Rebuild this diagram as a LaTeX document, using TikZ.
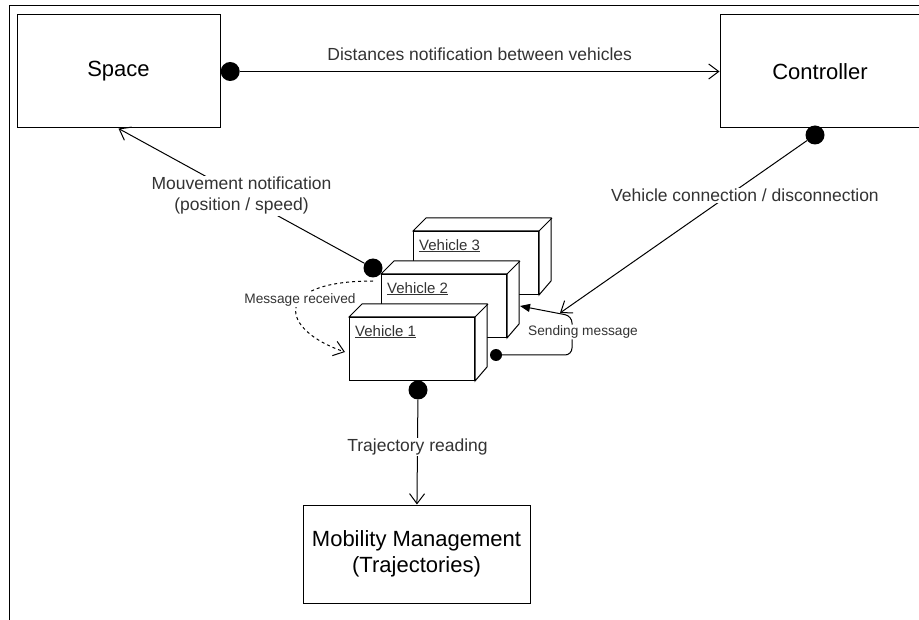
\documentclass[tikz,border=0pt]{standalone}
\usepackage{fontspec}
\setmainfont{Liberation Sans}
\usetikzlibrary{arrows.meta,positioning}

\tikzset{
  block/.style={draw, fill=white, line width=1pt, align=center, inner sep=0pt,
    font=\fontsize{22}{26}\selectfont},
  vehiclebox/.style={draw, fill=white, line width=1pt, inner sep=0pt,
    minimum width=125pt, minimum height=63pt},
  vlabel/.style={anchor=north west, inner sep=1pt, xshift=5pt, yshift=-7pt,
    text=black!80, font=\fontsize{15}{18}\selectfont},
  bulletdot/.style={circle, fill=black, inner sep=0pt, minimum size=19pt},
  smalldot/.style={circle, fill=black, inner sep=0pt, minimum size=12pt},
  conn/.style={line width=1pt, -{Straight Barb[length=10pt,width=15pt]}},
  lbl/.style={fill=white, align=center, inner sep=1pt, text=black!80,
    font=\fontsize{17.5}{21}\selectfont},
  smalllbl/.style={fill=white, inner sep=1pt, text=black!80,
    font=\fontsize{13.7}{16}\selectfont},
}

\begin{document}
\begin{tikzpicture}[x=1pt, y=-1pt]
  \useasboundingbox (0,0) rectangle (919,620);
  \draw[line width=1pt] (919,6) -- (9,6) -- (9,620);

  \node[block, minimum width=203pt, minimum height=113pt] (space) at (118.5,71.5) {Space};
  \node[block, minimum width=200pt, minimum height=113pt] (ctrl) at (820,71.5) {Controller};
  \node[block, minimum width=227pt, minimum height=98pt] (mob) at (416.5,554) {Mobility Management\\(Trajectories)};

  % vehicles, back one first
  \foreach \n/\x/\y in {3/476/263, 2/444/306, 1/412/349}{
    \node[vehiclebox, label={[vlabel]north west:\underline{Vehicle \n}}] (v\n) at (\x,\y) {};
    \draw[fill=white, line width=1pt] (v\n.north west) -- ++(13,-13) -- ++(125,0) -- ++(0,63)
      -- (v\n.south east) -- (v\n.north east) -- cycle;
    \draw[line width=1pt] (v\n.north east) -- ++(13,-13);
  }

  \node[bulletdot, right=0pt of space] (sb) {};
  \node[bulletdot] (cb) at (815,135) {};
  \node[bulletdot] (mb) at (373,268) {};
  \node[bulletdot] (tb) at (418,390) {};
  \node[smalldot] (sd) at (496,355) {};
  \coordinate (hub) at (560,313);

  \draw[conn] (sb) -- node[lbl, fill=none, above=9pt] {Distances notification between vehicles} (ctrl);
  \draw[conn] (mb) -- node[lbl] {Mouvement notification\\(position / speed)} (space.south);
  \draw[conn] (cb) -- node[lbl, pos=0.32, xshift=17pt] {Vehicle connection / disconnection} (hub);
  \draw[conn] (tb) -- node[lbl, pos=0.45] {Trajectory reading} (mob);

  % sending message
  \draw[line width=1pt, rounded corners=7pt, -{Triangle[length=10pt,width=8pt]}]
    (sd) -- (572,355) -- node[smalllbl, pos=0.59, xshift=11pt] {Sending message} (572,316)
    -- ([xshift=13pt]v2.east);

  % message received
  \draw[line width=1pt, dashed, -{Straight Barb[length=10pt,width=15pt]}]
    ([xshift=-8pt,yshift=25pt]v2.west) .. controls (270,281) and (280,330)
    .. node[smalllbl, pos=0.4] {Message received} ([xshift=-4pt,yshift=-3pt]v1.west);
\end{tikzpicture}
\end{document}
